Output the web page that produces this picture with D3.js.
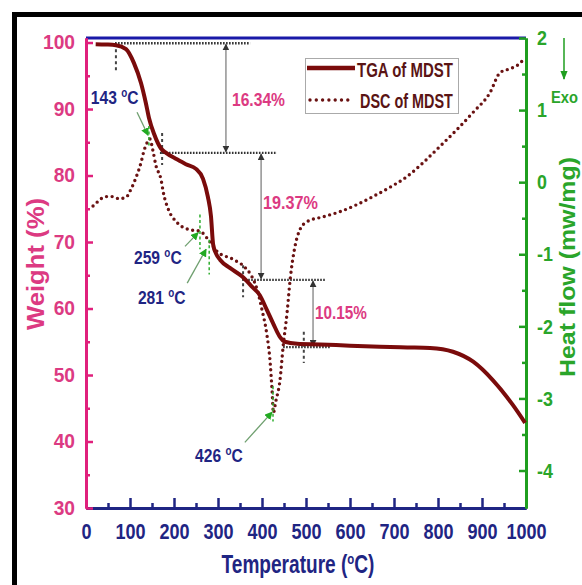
<!DOCTYPE html>
<html>
<head>
<meta charset="utf-8">
<script src="https://cdn.jsdelivr.net/npm/d3@7"></script>
<style>
body { margin: 0; background: #fff; }
svg text { font-family: "Liberation Sans", Arial, sans-serif; font-weight: bold; }
</style>
</head>
<body>
<div id="chart"></div>
<script>
const svgWidth = 582;
const svgHeight = 585;
const margin = { top: 38, right: 56, bottom: 77, left: 86 };
const width = svgWidth - margin.left - margin.right;
const height = svgHeight - margin.top - margin.bottom;

// TGA (weight %)
const tgaTemp = [22, 45, 68, 91, 109, 125, 136, 143, 155, 170, 182, 205, 227, 250, 266, 277, 284, 289, 296, 305,
  327, 355, 377, 395, 411, 425, 441, 452, 480, 532, 600, 668, 730, 782, 834, 880, 925, 970, 998];
const tgaWeight = [99.75, 99.7, 99.6, 99.0, 96.9, 93.9, 90.9, 88.7, 86.2, 84.1, 83.4, 82.5, 81.7, 81.0, 79.5, 76.8, 73.9, 69.6, 68.2, 67.3,
  66.1, 64.8, 63.3, 62.0, 59.8, 57.8, 55.7, 55.0, 54.7, 54.6, 54.4, 54.25, 54.15, 54.06, 53.5, 52.0, 49.2, 45.5, 42.8];

// DSC (heat flow mw/mg)
const dscTemp = [16, 23, 45, 61, 75, 91, 102, 114, 125, 132, 141, 145, 152, 159, 170, 177, 186, 207, 236, 259, 277, 298,
  334, 361, 377, 389, 400, 411, 418, 423, 426, 431, 441, 448, 457, 464, 475, 486, 502, 539, 577, 616, 652, 691,
  730, 766, 805, 843, 880, 918, 941, 957, 980, 993];
const dscHeat = [-0.33, -0.29, -0.20, -0.20, -0.23, -0.21, -0.10, 0.07, 0.27, 0.44, 0.57, 0.6, 0.44, 0.23, 0.05, -0.18, -0.36, -0.56, -0.66, -0.68, -0.79, -0.96,
  -1.07, -1.18, -1.31, -1.49, -1.77, -2.11, -2.46, -2.9, -3.2, -3.05, -2.74, -2.28, -1.81, -1.35, -0.89, -0.66, -0.55, -0.48, -0.41, -0.31, -0.20, -0.07,
  0.08, 0.27, 0.50, 0.73, 0.97, 1.24, 1.52, 1.56, 1.62, 1.69];

// tick values
const tempTicks = d3.range(0, 1001, 100);
const tempMinor = d3.range(50, 1000, 100);
const weightTicks = d3.range(30, 101, 10);
const weightMinor = d3.range(35, 100, 10);
const heatTicks = d3.range(-4, 3, 1);
const heatMinor = d3.range(-3.5, 2, 1);

// weight-loss steps
const stepLevels = [99.9, 83.4, 64.3, 54.2];
const stepLines = [[66, 373], [168, 434], [355, 543], [448, 555]];
const stepMarkers = [[68, 99.9, 95.6], [173, 86.4, 81.6], [357, 66.5, 61.7], [495, 56.5, 51.8]];
const lossArrowT = [318, 398, 516];
const lossLabels = ["16.34%", "19.37%", "10.15%"];
const lossLabelPos = [[232, 106, 53], [263, 209, 55], [315, 319, 52]];

// peak annotations
const peakLabels = ["143", "259", "281", "426"];
const peakText = [[11, 1.08], [109, -1.13], [118, -1.69], [248, -3.88]];
const peakArrowFrom = [[116, 0.97], [225, -0.89], [230, -1.4], [361, -3.61]];
const peakArrowTo = [[141, 0.65], [255, -0.70], [273, -0.93], [423, -3.19]];
const peakMarks = [[143, 0.78, 0.5], [259, -0.45, -0.93], [280, -0.8, -1.28], [425, -2.83, -3.32]];

const pink = "#e0207c";
const pinkText = "#dc3a82";
const navy = "#1f2583";
const blue = "#1a1aa8";
const green = "#1f9e1f";
const maroon = "#7a0b0b";

const svg = d3.select("#chart").append("svg")
  .attr("width", svgWidth)
  .attr("height", svgHeight);

svg.append("defs").html(`
  <marker id="headGray" viewBox="0 0 10 10" refX="9" refY="5" markerWidth="7" markerHeight="7" markerUnits="userSpaceOnUse" orient="auto-start-reverse">
    <path d="M0,0 L10,5 L0,10 z" fill="#333"/></marker>
  <marker id="headGreen" viewBox="0 0 10 10" refX="9" refY="5" markerWidth="8" markerHeight="8" markerUnits="userSpaceOnUse" orient="auto">
    <path d="M0,0 L10,5 L0,10 z" fill="#22aa22"/></marker>
  <marker id="headExo" viewBox="0 0 10 10" refX="9" refY="5" markerWidth="9" markerHeight="9" markerUnits="userSpaceOnUse" orient="auto">
    <path d="M0,1 L10,5 L0,9 z" fill="${green}"/></marker>`);

// black frame (right and bottom sides lie outside the picture)
svg.append("rect")
  .attr("x", 14.5).attr("y", 14.5)
  .attr("width", 620).attr("height", 620)
  .attr("fill", "none").attr("stroke", "#000").attr("stroke-width", 5);

const chartGroup = svg.append("g")
  .attr("transform", `translate(${margin.left}, ${margin.top})`);

const x = d3.scaleLinear().domain([0, 1000]).range([0, width]);
const yW = d3.scaleLinear().domain([30, 100.68]).range([height, 0]);
const yH = d3.scaleLinear().domain([-4.52, 2]).range([height, 0]);

const plain = d => String(d);

function squeeze(sel, ratio) {
  sel.each(function() {
    const len = this.getComputedTextLength();
    d3.select(this).attr("textLength", len * ratio).attr("lengthAdjust", "spacingAndGlyphs");
  });
}

function fit(g, w) {
  const b = g.node().getBBox();
  g.attr("transform", g.attr("transform") + ` scale(${w / b.width},1)`);
}

// top line
chartGroup.append("line")
  .attr("x1", 0).attr("x2", width).attr("y1", 0).attr("y2", 0)
  .attr("stroke", blue).attr("stroke-width", 3);

// bottom axis
const xAxis = chartGroup.append("g")
  .attr("transform", `translate(0, ${height})`)
  .call(d3.axisBottom(x).tickValues(tempTicks).tickFormat(plain).tickSize(-10).tickSizeOuter(0).tickPadding(15));
xAxis.append("g").call(d3.axisBottom(x).tickValues(tempMinor).tickSize(-5).tickSizeOuter(0).tickFormat(""));
xAxis.selectAll("path").attr("stroke", navy).attr("stroke-width", 3);
xAxis.selectAll("line").attr("stroke", navy).attr("stroke-width", 2.5);
xAxis.selectAll("text").attr("fill", navy).style("font-size", "22px").call(squeeze, 0.82);

// left axis
const yAxisL = chartGroup.append("g")
  .call(d3.axisLeft(yW).tickValues(weightTicks).tickFormat(plain).tickSize(-7).tickSizeOuter(0).tickPadding(11));
yAxisL.append("g").call(d3.axisLeft(yW).tickValues(weightMinor).tickSize(-4).tickSizeOuter(0).tickFormat(""));
yAxisL.selectAll("path").attr("stroke", pink).attr("stroke-width", 3);
yAxisL.selectAll("line").attr("stroke", pink).attr("stroke-width", 2.5);
yAxisL.selectAll("text").attr("fill", pinkText).style("font-size", "20px").call(squeeze, 0.96);

// right axis
const yAxisR = chartGroup.append("g")
  .attr("transform", `translate(${width}, 0)`)
  .call(d3.axisRight(yH).tickValues(heatTicks).tickFormat(plain).tickSize(-7).tickSizeOuter(0).tickPadding(11));
yAxisR.append("g").call(d3.axisRight(yH).tickValues(heatMinor).tickSize(-4).tickSizeOuter(0).tickFormat(""));
yAxisR.selectAll("path").attr("stroke", green).attr("stroke-width", 3);
yAxisR.selectAll("line").attr("stroke", green).attr("stroke-width", 2.5);
yAxisR.selectAll("text").attr("fill", "#2aa52a").style("font-size", "21px").call(squeeze, 0.85);

// axis titles
svg.append("text")
  .attr("transform", "translate(44, 264) rotate(-90)")
  .attr("text-anchor", "middle")
  .attr("fill", pinkText)
  .style("font-size", "23px")
  .attr("textLength", 132).attr("lengthAdjust", "spacingAndGlyphs")
  .text("Weight (%)");

svg.append("text")
  .attr("transform", "translate(575, 267) rotate(-90)")
  .attr("text-anchor", "middle")
  .attr("fill", "#2aa52a")
  .style("font-size", "22px")
  .attr("textLength", 220).attr("lengthAdjust", "spacingAndGlyphs")
  .text("Heat flow (mw/mg)");

const xTitle = svg.append("g").attr("transform", "translate(298, 573)");
const xt = xTitle.append("text").attr("text-anchor", "middle").attr("fill", navy).style("font-size", "25px");
xt.append("tspan").text("Temperature (");
xt.append("tspan").attr("dy", -9).style("font-size", "15px").text("o");
xt.append("tspan").attr("dy", 9).text("C)");
fit(xTitle, 153);

// Exo arrow
svg.append("line")
  .attr("x1", 564).attr("x2", 564).attr("y1", 38).attr("y2", 79)
  .attr("stroke", green).attr("stroke-width", 1.5)
  .attr("marker-end", "url(#headExo)");
const exo = svg.append("g").attr("transform", "translate(551, 103)");
exo.append("text").attr("fill", "#2aa52a").style("font-size", "17px").text("Exo");
fit(exo, 27);

// weight-loss step lines
stepLevels.forEach((lv, i) => {
  chartGroup.append("line")
    .attr("x1", x(stepLines[i][0])).attr("x2", x(stepLines[i][1]))
    .attr("y1", yW(lv)).attr("y2", yW(lv))
    .attr("stroke", "#333").attr("stroke-width", 2.4).attr("stroke-dasharray", "1.6,1.4");
});
stepMarkers.forEach(m => {
  chartGroup.append("line")
    .attr("x1", x(m[0])).attr("x2", x(m[0]))
    .attr("y1", yW(m[1])).attr("y2", yW(m[2]))
    .attr("stroke", "#444").attr("stroke-width", 2).attr("stroke-dasharray", "3,3");
});
lossArrowT.forEach((t, i) => {
  chartGroup.append("line")
    .attr("x1", x(t)).attr("x2", x(t))
    .attr("y1", yW(stepLevels[i]) + 1).attr("y2", yW(stepLevels[i + 1]) - 1)
    .attr("stroke", "#999").attr("stroke-width", 1.6)
    .attr("marker-start", "url(#headGray)").attr("marker-end", "url(#headGray)");
});
lossLabels.forEach((lb, i) => {
  const p = lossLabelPos[i];
  const g = svg.append("g").attr("transform", `translate(${p[0]}, ${p[1]})`);
  g.append("text").attr("fill", pinkText).style("font-size", "18px").text(lb);
  fit(g, p[2]);
});

// curves
const tgaData = tgaTemp.map((t, i) => ({ t: t, v: tgaWeight[i] }));
const dscData = dscTemp.map((t, i) => ({ t: t, v: dscHeat[i] }));

chartGroup.append("path")
  .datum(dscData)
  .attr("fill", "none")
  .attr("stroke", "#6a1212")
  .attr("stroke-width", 3.4)
  .attr("stroke-linecap", "round")
  .attr("stroke-dasharray", "0,5.6")
  .attr("d", d3.line().x(d => x(d.t)).y(d => yH(d.v)).curve(d3.curveMonotoneX));

chartGroup.append("path")
  .datum(tgaData)
  .attr("fill", "none")
  .attr("stroke", maroon)
  .attr("stroke-width", 4)
  .attr("stroke-linejoin", "round")
  .attr("d", d3.line().x(d => x(d.t)).y(d => yW(d.v)).curve(d3.curveMonotoneX));

// peak annotations
peakLabels.forEach((lb, i) => {
  const m = peakMarks[i];
  chartGroup.append("line")
    .attr("x1", x(m[0])).attr("x2", x(m[0]))
    .attr("y1", yH(m[1])).attr("y2", yH(m[2]))
    .attr("stroke", "#2fae2f").attr("stroke-width", 1.5).attr("stroke-dasharray", "3,2.5");
  chartGroup.append("line")
    .attr("x1", x(peakArrowFrom[i][0])).attr("y1", yH(peakArrowFrom[i][1]))
    .attr("x2", x(peakArrowTo[i][0])).attr("y2", yH(peakArrowTo[i][1]))
    .attr("stroke", "#6f9f6f").attr("stroke-width", 1.3)
    .attr("marker-end", "url(#headGreen)");
  const g = chartGroup.append("g")
    .attr("transform", `translate(${x(peakText[i][0])}, ${yH(peakText[i][1])})`);
  const t = g.append("text").attr("fill", navy).style("font-size", "19px");
  t.append("tspan").text(lb + " ");
  t.append("tspan").attr("dy", -7).style("font-size", "12px").text("o");
  t.append("tspan").attr("dy", 7).text("C");
  fit(g, 48);
});

// legend
const legend = svg.append("g");
legend.append("rect")
  .attr("x", 305.5).attr("y", 58.5).attr("width", 153).attr("height", 55)
  .attr("fill", "#fff").attr("stroke", "#aaa").attr("stroke-width", 1);
legend.append("line")
  .attr("x1", 307).attr("x2", 355).attr("y1", 68).attr("y2", 68)
  .attr("stroke", maroon).attr("stroke-width", 4.5);
legend.append("line")
  .attr("x1", 310).attr("x2", 354).attr("y1", 100).attr("y2", 100)
  .attr("stroke", "#6a1212").attr("stroke-width", 3.4)
  .attr("stroke-linecap", "round").attr("stroke-dasharray", "0,6.3");
const lg1 = legend.append("g").attr("transform", "translate(357, 77)");
lg1.append("text").attr("fill", "#5a1414").style("font-size", "20px").text("TGA of MDST");
fit(lg1, 96);
const lg2 = legend.append("g").attr("transform", "translate(360, 108)");
lg2.append("text").attr("fill", "#5a1414").style("font-size", "20px").text("DSC of MDST");
fit(lg2, 93);
</script>
</body>
</html>
